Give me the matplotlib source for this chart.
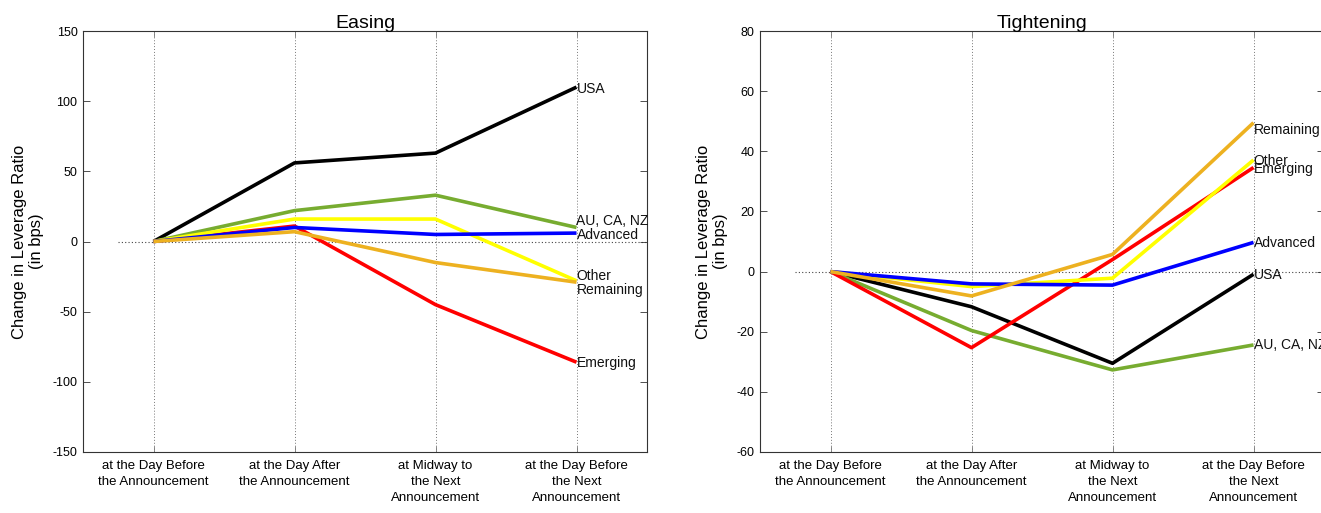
import matplotlib
matplotlib.use("Agg")
import matplotlib.pyplot as plt

plt.rcParams['font.family'] = ['Liberation Sans', 'DejaVu Sans']

categories = ["at the Day Before\nthe Announcement",
              "at the Day After\nthe Announcement",
              "at Midway to\nthe Next\nAnnouncement",
              "at the Day Before\nthe Next\nAnnouncement"]

series_names = ["USA", "AU, CA, NZ", "Emerging", "Other", "Advanced", "Remaining"]
series_colors = ["#000000", "#77AC30", "#FF0000", "#FFFF00", "#0000FF", "#EDB120"]

# Easing panel values (bps)
easing_usa = [0, 56, 63, 110]
easing_au = [0, 22, 33, 10]
easing_emerging = [0, 11, -45, -86]
easing_other = [0, 16, 16, -28]
easing_advanced = [0, 10, 5, 6]
easing_remaining = [0, 7, -15, -29]
easing_label_y = [109, 14.5, -86.5, -24.5, 4.5, -34.5]

# Tightening panel values (bps)
tight_usa = [0, -11.7, -30.5, -0.9]
tight_au = [0, -19.6, -32.7, -24.4]
tight_emerging = [0, -25.3, 4, 34.6]
tight_other = [0, -5, -2.2, 37.1]
tight_advanced = [0, -4.1, -4.5, 9.7]
tight_remaining = [0, -8.1, 5.7, 49.5]
tight_label_y = [-1.2, -24.4, 34.0, 36.8, 9.5, 47.0]

easing = [easing_usa, easing_au, easing_emerging, easing_other, easing_advanced, easing_remaining]
tight = [tight_usa, tight_au, tight_emerging, tight_other, tight_advanced, tight_remaining]

fig = plt.figure(figsize=(13.21, 5.13), dpi=100)
W, H = 1321, 513
ax1 = fig.add_axes([83 / W, 1 - 452 / H, 564 / W, 421 / H])
ax2 = fig.add_axes([760 / W, 1 - 452 / H, 564 / W, 421 / H])

x = [1, 2, 3, 4]

def draw(ax, data, label_y, title, ylim, yticks):
    ax.plot([0.75, 4.5], [0, 0], linestyle=(0, (1, 2)), color='#444444', linewidth=0.8, zorder=1)
    for vals, name, col, ly in zip(data, series_names, series_colors, label_y):
        ax.plot(x, vals, color=col, linewidth=2.6, zorder=3, solid_capstyle='butt')
        ax.text(4, ly, name, fontsize=10, va='center', ha='left', color='#111111',
                zorder=5, clip_on=False)
    ax.set_xlim(0.5, 4.5)
    ax.set_ylim(*ylim)
    ax.set_yticks(yticks)
    ax.set_yticklabels([str(t) for t in yticks], fontsize=9)
    ax.set_xticks(x)
    ax.set_xticklabels(categories, fontsize=9.5, linespacing=1.45)
    ax.xaxis.grid(True, linestyle=(0, (1, 2)), color='#777777', linewidth=0.7)
    ax.tick_params(axis='y', direction='in', left=True, right=True, length=5,
                   width=0.6, color='#333333', pad=4)
    ax.tick_params(axis='x', direction='in', bottom=True, top=True, length=4,
                   width=0.6, color='#777777', pad=6)
    for s in ax.spines.values():
        s.set_linewidth(0.8)
        s.set_color('#333333')
    ax.set_title(title, fontsize=14, pad=2)
    ax.set_ylabel("Change in Leverage Ratio\n(in bps)", fontsize=12, labelpad=6)

draw(ax1, easing, easing_label_y, "Easing", (-150, 150), [-150, -100, -50, 0, 50, 100, 150])
draw(ax2, tight, tight_label_y, "Tightening", (-60, 80), [-60, -40, -20, 0, 20, 40, 60, 80])

fig.savefig("out.png", dpi=100)
